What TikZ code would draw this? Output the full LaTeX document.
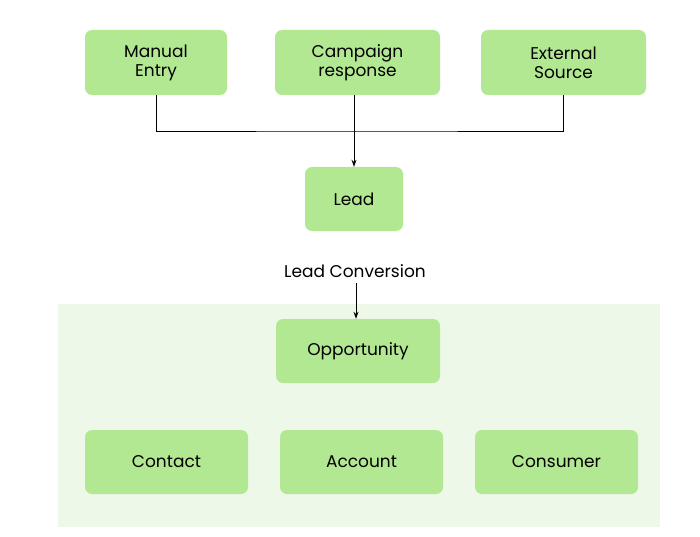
\documentclass[tikz,border=0pt]{standalone}
\usepackage{fontspec}
\setmainfont{Poppins}
\usetikzlibrary{arrows.meta}
\definecolor{boxg}{HTML}{B3E893}
\definecolor{bgg}{HTML}{EEF8E8}
\tikzset{box/.style={draw=none,fill=boxg,rounded corners=7pt,font=\fontsize{17}{19}\selectfont,align=center,inner sep=0pt},
con/.style={line width=0.9pt},
arr/.style={con,-{Stealth[length=7pt,width=5pt]}}}
\begin{document}
\begin{tikzpicture}[x=1pt,y=-1pt]
\useasboundingbox (0,0) rectangle (700,537);
\fill[bgg] (58,304) rectangle (660,527);
\node[box,minimum width=142pt,minimum height=65pt] (me) at (156,62.5) {Manual\\Entry};
\node[box,minimum width=165pt,minimum height=65pt] (cr) at (357.5,62.5) {Campaign\\response};
\node[box,minimum width=165pt,minimum height=65pt] (es) at (563.5,62.5) {External\\Source};
\node[box,minimum width=98pt,minimum height=64pt] (lead) at (354,199) {Lead};
\node[font=\fontsize{17}{19}\selectfont] (lc) at (355,271) {Lead Conversion};
\node[box,minimum width=164pt,minimum height=64pt] (opp) at (358,351) {Opportunity};
\node[box,minimum width=163pt,minimum height=64pt] (ct) at (166.5,462) {Contact};
\node[box,minimum width=163pt,minimum height=64pt] (ac) at (361.5,462) {Account};
\node[box,minimum width=163pt,minimum height=64pt] (cs) at (556.5,462) {Consumer};
\coordinate (j) at (354,131);
\draw[con] (me.south) |- (j) -| (es.south);
\draw[con] (354,95) -- (j);
\draw[arr] (j) -- (lead.north);
\draw[arr] (lc.south) ++(1,2) -- ([xshift=-2pt]opp.north);
\end{tikzpicture}
\end{document}
